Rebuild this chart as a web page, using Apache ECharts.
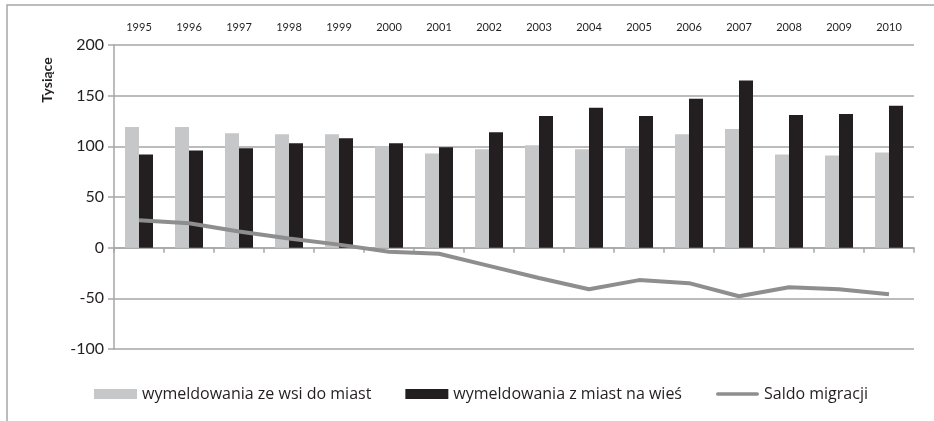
<!DOCTYPE html>
<html>
<head>
<meta charset="utf-8">
<script src="https://cdn.jsdelivr.net/npm/echarts@6/dist/echarts.min.js"></script>
<style>
  html, body { margin: 0; padding: 0; background: #fff; }
  #chart { width: 934px; height: 421px; }
</style>
</head>
<body>
<div id="chart"></div>
<script>
// lata
const years = ['1995', '1996', '1997', '1998', '1999', '2000', '2001', '2002',
  '2003', '2004', '2005', '2006', '2007', '2008', '2009', '2010'];
// tysiące osób
const wsMiasta = [119, 119, 113, 112, 112, 100, 93, 97, 101, 97, 98, 112, 117, 92, 91, 94];
const miastaWies = [92, 96, 98, 103, 108, 103, 99, 114, 130, 138, 130, 147, 165, 131, 132, 140];
const saldo = [27, 24, 16, 9, 3, -4, -6, -18, -30, -41, -32, -35, -48, -39, -41, -46];
const yTicks = { min: -100, max: 200, step: 50 };

const gridColor = '#a6a6a6';
const font = 'Lato, "Open Sans", sans-serif';
const legendFont = '"Open Sans", sans-serif';

const chart = echarts.init(document.getElementById('chart'));

const option = {
  animation: false,
  textStyle: { fontFamily: font, color: '#231f20' },
  graphic: [
    {
      // ramka wykresu
      type: 'rect',
      shape: { x: 7, y: 5, width: 1000, height: 500 },
      style: { fill: 'none', stroke: gridColor, lineWidth: 1.5 },
      silent: true
    },
    {
      type: 'text',
      x: 47, y: 80,
      rotation: Math.PI / 2,
      style: {
        text: 'Tysiące',
        fontFamily: font,
        fontSize: 14,
        fontWeight: 'bold',
        fill: '#231f20',
        align: 'center',
        verticalAlign: 'middle'
      }
    }
  ],
  grid: { left: 114, right: 20, top: 45, bottom: 72 },
  legend: {
    left: 89,
    top: 381,
    itemWidth: 43,
    itemHeight: 10,
    itemGap: 34,
    textStyle: { fontFamily: legendFont, fontSize: 16, color: '#231f20' },
    data: [
      { name: 'wymeldowania ze wsi do miast', icon: 'rect' },
      { name: 'wymeldowania z miast na wieś', icon: 'rect' },
      { name: 'Saldo migracji', icon: 'path://M2,0 L45,0 A2,2 0 0 1 45,4 L2,4 A2,2 0 0 1 2,0 Z' }
    ]
  },
  xAxis: [
    {
      type: 'category',
      position: 'top',
      data: years,
      axisLine: { show: false, onZero: false },
      axisTick: { show: false },
      axisLabel: { fontSize: 11, margin: 12, color: '#231f20', fontFamily: font }
    },
    {
      type: 'category',
      position: 'bottom',
      data: years,
      axisLine: { show: true, onZero: true, lineStyle: { color: gridColor, width: 1.5 } },
      axisTick: { show: true, length: 5, lineStyle: { color: gridColor, width: 1.5 } },
      axisLabel: { show: false }
    }
  ],
  yAxis: {
    type: 'value',
    min: yTicks.min,
    max: yTicks.max,
    interval: yTicks.step,
    axisLine: { show: true, lineStyle: { color: gridColor, width: 1.5 } },
    axisTick: { show: true, length: 6, lineStyle: { color: gridColor, width: 1.5 } },
    axisLabel: { fontSize: 16, margin: 10, color: '#231f20', fontFamily: font },
    splitLine: { lineStyle: { color: gridColor, width: 1.5 } }
  },
  series: [
    {
      name: 'wymeldowania ze wsi do miast',
      type: 'bar',
      data: wsMiasta,
      barWidth: 14,
      barGap: '0%',
      itemStyle: { color: '#c6c7c8' }
    },
    {
      name: 'wymeldowania z miast na wieś',
      type: 'bar',
      data: miastaWies,
      barWidth: 14,
      barGap: '0%',
      itemStyle: { color: '#231f20' }
    },
    {
      name: 'Saldo migracji',
      type: 'line',
      data: saldo,
      symbol: 'none',
      lineStyle: { color: '#8e8e8e', width: 4 },
      itemStyle: { color: '#8e8e8e' },
      z: 5
    }
  ]
};

chart.setOption(option);
</script>
</body>
</html>
